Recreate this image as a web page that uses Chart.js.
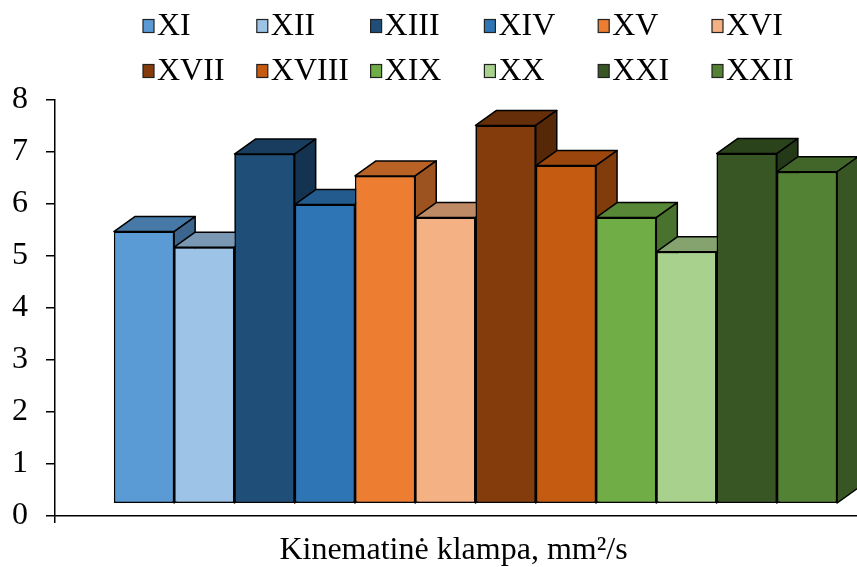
<!DOCTYPE html>
<html>
<head>
<meta charset="utf-8">
<script src="https://cdn.jsdelivr.net/npm/chart.js@4/dist/chart.umd.min.js"></script>
<style>
  html, body { margin: 0; padding: 0; background: #fff; overflow: hidden; }
  /* plot runs past the right edge so the x axis line reaches the border */
  #wrap { width: 896px; height: 567px; }
</style>
</head>
<body>
<div id="wrap"><canvas id="chart"></canvas></div>
<script>
// samples and their kinematic viscosity
const samples = ['XI', 'XII', 'XIII', 'XIV', 'XV', 'XVI', 'XVII', 'XVIII', 'XIX', 'XX', 'XXI', 'XXII'];
const viscosity = [5.22, 4.92, 6.71, 5.74, 6.29, 5.49, 7.26, 6.49, 5.49, 4.83, 6.72, 6.37];
const colors = ['#5B9BD5', '#9DC3E6', '#1F4E79', '#2E75B6', '#ED7D31', '#F4B183',
                '#843C0C', '#C55A11', '#70AD47', '#A9D18E', '#375623', '#548235'];
const categories = [''];
const yMin = 0, yMax = 8;

const FONT = "'Liberation Serif', 'Times New Roman', serif";
const depthX = 21, depthY = 15; // 3d offset of the bar tops/sides

function shade(hex, k) {
    const n = parseInt(hex.slice(1), 16);
    const r = Math.round(((n >> 16) & 255) * k);
    const g = Math.round(((n >> 8) & 255) * k);
    const b = Math.round((n & 255) * k);
    return `rgb(${r},${g},${b})`;
}

// draws top and right faces, left to right so the next bar hides the previous side
const bars3d = {
    id: 'bars3d',
    afterDatasetsDraw(chart) {
        const ctx = chart.ctx;
        ctx.save();
        ctx.lineWidth = 1.5;
        ctx.strokeStyle = '#000';
        ctx.lineJoin = 'round';
        chart.data.datasets.forEach((ds, i) => {
            const bar = chart.getDatasetMeta(i).data[0];
            const {x, y, base, width} = bar.getProps(['x', 'y', 'base', 'width'], true);
            const l = x - width / 2, r = x + width / 2;
            bar.draw(ctx);
            ctx.beginPath();
            ctx.moveTo(l, y);
            ctx.lineTo(l + depthX, y - depthY);
            ctx.lineTo(r + depthX, y - depthY);
            ctx.lineTo(r, y);
            ctx.closePath();
            ctx.fillStyle = shade(ds.backgroundColor, 0.78);
            ctx.fill();
            ctx.stroke();
            ctx.beginPath();
            ctx.moveTo(r, y);
            ctx.lineTo(r + depthX, y - depthY);
            ctx.lineTo(r + depthX, base - depthY);
            ctx.lineTo(r, base);
            ctx.closePath();
            ctx.fillStyle = shade(ds.backgroundColor, 0.66);
            ctx.fill();
            ctx.stroke();
        });
        ctx.restore();
    }
};

// legend as a 6 column grid
const gridLegend = {
    id: 'gridLegend',
    afterDraw(chart) {
        const ctx = chart.ctx;
        ctx.save();
        ctx.font = `32px ${FONT}`;
        ctx.textBaseline = 'middle';
        chart.data.datasets.forEach((ds, i) => {
            const bx = 143 + (i % 6) * 113.8;
            const cy = 26 + Math.floor(i / 6) * 45;
            ctx.fillStyle = ds.backgroundColor;
            ctx.fillRect(bx, cy - 6.5, 11, 13);
            ctx.lineWidth = 1.2;
            ctx.strokeStyle = '#222';
            ctx.strokeRect(bx, cy - 6.5, 11, 13);
            ctx.fillStyle = '#000';
            ctx.fillText(ds.label, bx + 14, cy + 1);
        });
        ctx.restore();
    }
};

const datasets = samples.map((name, i) => ({
    label: name,
    data: [viscosity[i]],
    backgroundColor: colors[i],
    borderColor: '#000',
    borderWidth: 1.5,
    borderSkipped: false,
    yAxisID: 'yb'
}));

new Chart(document.getElementById('chart'), {
    type: 'bar',
    data: { labels: categories, datasets: datasets },
    plugins: [bars3d, gridLegend],
    options: {
        animation: false,
        responsive: true,
        maintainAspectRatio: false,
        layout: { padding: { top: 100, left: 11, right: 0, bottom: 0 } },
        datasets: { bar: { barPercentage: 1, categoryPercentage: 0.86 } },
        plugins: {
            legend: { display: false },
            tooltip: { enabled: false },
            title: {
                display: true,
                position: 'bottom',
                text: 'Kinematinė klampa, mm²/s',
                color: '#000',
                font: { family: FONT, size: 32, weight: 'normal', lineHeight: 1 },
                padding: { top: 12, bottom: 0 }
            }
        },
        scales: {
            x: {
                offset: true,
                border: { color: '#000', width: 1.5 },
                grid: { drawOnChartArea: false, color: '#000', lineWidth: 1.5, tickLength: 7 },
                ticks: { display: false }
            },
            y: {
                min: yMin,
                max: yMax,
                afterFit(scale) { scale.width = 44; },
                border: { color: '#000', width: 1.5 },
                grid: { drawOnChartArea: false, color: '#000', lineWidth: 1.5, tickLength: 9 },
                ticks: { stepSize: 1, padding: 18, color: '#000', font: { family: FONT, size: 32 } }
            },
            // bars sit on a floor slightly above the axis line
            yb: { display: false, min: yMin - 0.25, max: yMax - 0.25 }
        }
    }
});
</script>
</body>
</html>
